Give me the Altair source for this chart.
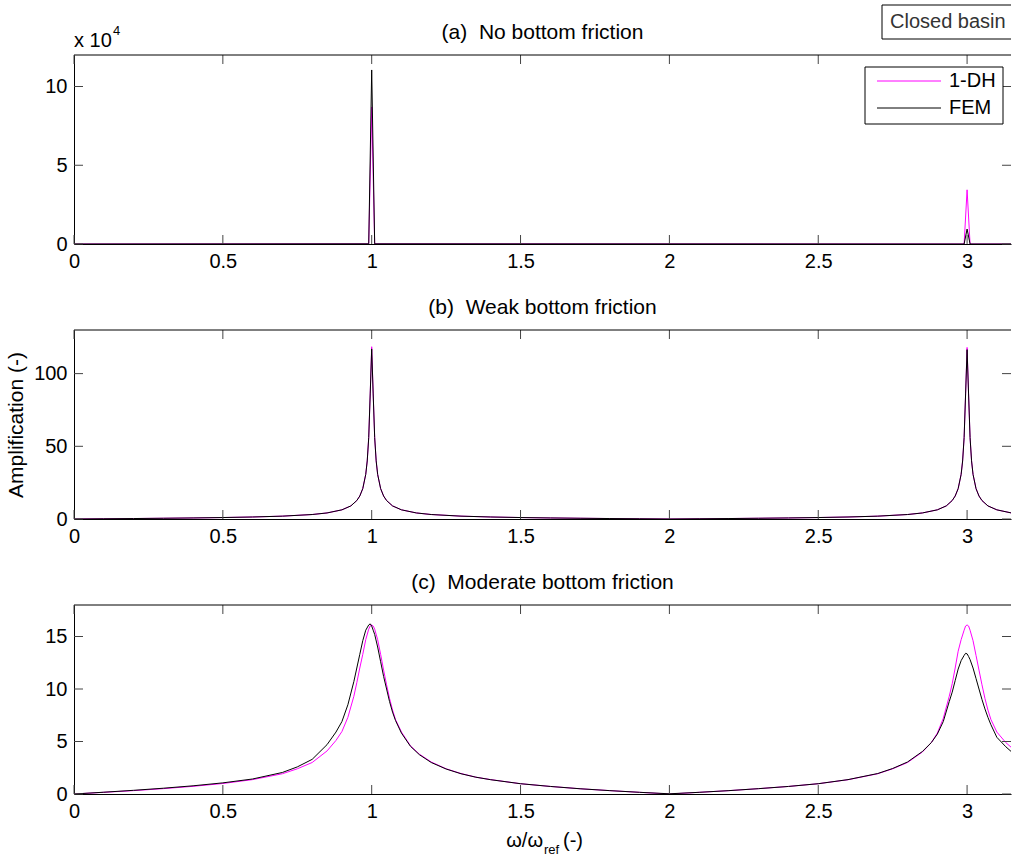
import altair as alt
import pandas as pd

W, H = 937, 189
XMAX = 3.1475
FONT = "Liberation Sans"

# tick labels
x_ticks = [0, 0.5, 1, 1.5, 2, 2.5, 3]
ya_ticks = [0, 5, 10]
yb_ticks = [0, 50, 100]
yc_ticks = [0, 5, 10, 15]

# (a) No bottom friction  (values in units of 10^4)
x_a = [0, 0.99, 1.0, 1.01, 2.99, 3.0, 3.01, 3.15]
a_dh = [0, 0.01, 8.7, 0.01, 0.0, 3.44, 0.0, 0.0]
a_fem = [0, 0.01, 11.05, 0.01, 0.0, 0.95, 0.0, 0.0]

# (b) Weak bottom friction
x_b = [0, 0.1, 0.2, 0.3, 0.4, 0.5, 0.6, 0.7, 0.8,
       0.85, 0.9, 0.93, 0.95, 0.96, 0.97, 0.98, 0.985, 0.99, 0.995,
       1.0,
       1.005, 1.01, 1.015, 1.02, 1.03, 1.04, 1.05, 1.07, 1.1, 1.15, 1.2,
       1.3, 1.4, 1.5, 1.6, 1.7, 1.8, 1.9, 2.0,
       2.1, 2.2, 2.3, 2.4, 2.5, 2.6, 2.7, 2.8,
       2.85, 2.9, 2.93, 2.95, 2.96, 2.97, 2.98, 2.985, 2.99, 2.995,
       3.0,
       3.005, 3.01, 3.015, 3.02, 3.03, 3.04, 3.05, 3.07, 3.1, 3.15]
b_dh = [0, 0.16, 0.32, 0.51, 0.73, 1.0, 1.38, 1.96, 3.08,
        4.16, 6.3, 9.0, 12.7, 15.8, 20.9, 30.7, 39.9, 56, 86,
        118.5,
        86, 56, 40, 30.7, 20.9, 15.8, 12.7, 9.0, 6.3, 4.16, 3.08,
        1.96, 1.38, 1.0, 0.73, 0.51, 0.32, 0.16, 0,
        0.16, 0.32, 0.51, 0.73, 1.0, 1.38, 1.96, 3.08,
        4.16, 6.3, 9.0, 12.7, 15.8, 20.9, 30.7, 39.9, 56, 86,
        118.0,
        86, 56, 40, 30.7, 20.9, 15.8, 12.7, 9.0, 6.3, 4.1]
b_fem = [0, 0.16, 0.32, 0.51, 0.73, 1.0, 1.38, 1.96, 3.08,
         4.16, 6.3, 9.0, 12.7, 15.8, 20.9, 30.7, 39.9, 56, 86,
         117.0,
         86, 56, 40, 30.7, 20.9, 15.8, 12.7, 9.0, 6.3, 4.16, 3.08,
         1.96, 1.38, 1.0, 0.73, 0.51, 0.32, 0.16, 0,
         0.16, 0.32, 0.51, 0.73, 1.0, 1.38, 1.96, 3.08,
         4.16, 6.3, 9.0, 12.7, 15.8, 20.9, 30.7, 39.9, 56, 86,
         116.5,
         86, 56, 40, 30.7, 20.9, 15.8, 12.7, 9.0, 6.3, 4.1]

# (c) Moderate bottom friction
x_c = [0, 0.1, 0.2, 0.3, 0.4, 0.5, 0.6, 0.7,
       0.75, 0.8, 0.85, 0.88, 0.9,
       0.92, 0.94, 0.95, 0.96, 0.97, 0.98, 0.99,
       0.995, 1.0, 1.005, 1.01,
       1.02, 1.03, 1.04, 1.05, 1.06, 1.07, 1.08,
       1.1, 1.13, 1.16, 1.2, 1.25, 1.3, 1.35, 1.4,
       1.5, 1.6, 1.7, 1.8, 1.9, 2.0,
       2.1, 2.2, 2.3, 2.4, 2.5, 2.6, 2.7,
       2.75, 2.8, 2.85, 2.88, 2.9,
       2.92, 2.94, 2.95, 2.96, 2.97, 2.98, 2.99,
       2.995, 3.0, 3.005, 3.01,
       3.02, 3.03, 3.04, 3.05, 3.06, 3.07, 3.08,
       3.1, 3.13, 3.15]
c_dh = [0, 0.16, 0.32, 0.51, 0.73, 1.0, 1.37, 1.93,
        2.4, 3.0, 4.1, 5.1, 5.95,
        7.3, 9.3, 10.6, 12.0, 13.3, 14.7, 15.7,
        16.0, 16.1, 16.0, 15.7,
        14.7, 13.3, 11.8, 10.4, 9.1, 8.0, 7.1,
        5.9, 4.6, 3.8, 3.05, 2.4, 1.95, 1.6, 1.37,
        0.98, 0.72, 0.5, 0.32, 0.16, 0,
        0.16, 0.32, 0.51, 0.72, 0.98, 1.36, 1.93,
        2.4, 3.0, 4.0, 4.9, 5.8,
        7.2, 9.3, 10.5, 12.0, 13.6, 14.7, 15.6,
        16.0, 16.1, 16.0, 15.6,
        14.6, 13.2, 11.8, 10.4, 9.1, 8.0, 7.1,
        5.9, 4.9, 4.4]
c_fem = [0, 0.17, 0.35, 0.55, 0.78, 1.06, 1.43, 2.05,
         2.58, 3.3, 4.7, 5.9, 6.9,
         8.5, 10.7, 12.0, 13.3, 14.6, 15.6, 16.1,
         16.2, 16.0, 15.6, 15.2,
         14.0, 12.6, 11.2, 10.0, 8.8, 7.8, 7.0,
         5.8, 4.55, 3.75, 3.0, 2.38, 1.93, 1.6, 1.36,
         0.98, 0.72, 0.5, 0.32, 0.16, 0.02,
         0.16, 0.32, 0.51, 0.72, 0.98, 1.37, 1.95,
         2.43, 3.05, 4.05, 4.9, 5.7,
         6.9, 8.8, 9.7, 10.8, 11.9, 12.7, 13.2,
         13.4, 13.35, 13.1, 12.8,
         12.0, 11.0, 10.0, 9.0, 8.1, 7.3, 6.6,
         5.4, 4.5, 4.0]

DH_COLOR = "#ff00ff"
FEM_COLOR = "#000000"
TICK_COLOR = "#444444"
NB = "\u00a0"


def note(text, x, y, size=20, align="left", baseline="alphabetic", color="black"):
    return alt.Chart(pd.DataFrame({"t": [text]})).mark_text(
        font=FONT, fontSize=size, align=align, baseline=baseline, color=color
    ).encode(x=alt.value(x), y=alt.value(y), text="t:N")


def seg(x1, x2, y1, y2, color="black"):
    return alt.Chart(pd.DataFrame({"t": [0]})).mark_rule(
        color=color, strokeWidth=1
    ).encode(x=alt.value(x1), x2=alt.value(x2), y=alt.value(y1), y2=alt.value(y2))


def panel(x, dh, fem, ymax, yticks, title, ytitle=None, extras=()):
    df = pd.DataFrame({"x": x, "dh": dh, "fem": fem})
    xs = alt.Scale(domain=[0, XMAX], nice=False, zero=False)
    ys = alt.Scale(domain=[0, ymax], nice=False)
    xaxis = alt.Axis(values=x_ticks, format="~r", ticks=False, labelPadding=7,
                     labelFlush=False, domainColor="black", labelFontSize=20,
                     labelFont=FONT, labelColor="black", grid=False, title=None)
    yargs = dict(values=yticks, format="~r", ticks=False, labelPadding=7,
                 domainColor="black", labelFontSize=20, labelFont=FONT,
                 labelColor="black", grid=False)
    if ytitle:
        yaxis = alt.Axis(title=ytitle, titleFont=FONT, titleFontSize=21,
                         titleFontWeight="normal", titleColor="black",
                         titlePadding=7, **yargs)
    else:
        yaxis = alt.Axis(title=None, **yargs)
    base = alt.Chart(df)
    l_dh = base.mark_line(color=DH_COLOR, strokeWidth=1, clip=True).encode(
        x=alt.X("x:Q", scale=xs, axis=xaxis), y=alt.Y("dh:Q", scale=ys, axis=yaxis))
    l_fem = base.mark_line(color=FEM_COLOR, strokeWidth=1, clip=True).encode(
        x=alt.X("x:Q", scale=xs, axis=xaxis), y=alt.Y("fem:Q", scale=ys, axis=yaxis))
    xt = alt.Chart(pd.DataFrame({"v": x_ticks}))
    yt = alt.Chart(pd.DataFrame({"v": yticks}))
    bot = xt.mark_rule(color=TICK_COLOR, strokeWidth=1).encode(
        x=alt.X("v:Q", scale=xs, axis=xaxis), y=alt.value(H), y2=alt.value(H - 9))
    top = xt.mark_rule(color=TICK_COLOR, strokeWidth=1).encode(
        x=alt.X("v:Q", scale=xs, axis=xaxis), y=alt.value(0), y2=alt.value(9))
    left = yt.mark_rule(color=TICK_COLOR, strokeWidth=1).encode(
        y=alt.Y("v:Q", scale=ys, axis=yaxis), x=alt.value(0), x2=alt.value(9))
    right = yt.mark_rule(color=TICK_COLOR, strokeWidth=1).encode(
        y=alt.Y("v:Q", scale=ys, axis=yaxis), x=alt.value(W - 9), x2=alt.value(W))
    border = seg(0, W, 0, 0)
    ttl = note(title, W / 2, -16, size=21, align="center")
    return alt.layer(l_dh, l_fem, bot, top, left, right, border, ttl, *extras).properties(
        width=W, height=H)


extras_a = [
    note("x 10", 0, -8, size=20),
    note("4", 39, -20, size=13),
    # "Closed basin" box (right side cut off)
    seg(808, W, -50, -50), seg(808, W, -16, -16), seg(808, 808, -50, -16),
    note("Closed basin", 816, -33, size=20, baseline="middle", color="#333333"),
    # legend
    alt.Chart(pd.DataFrame({"t": [0]})).mark_rect(fill="white", stroke="black", strokeWidth=1).encode(
        x=alt.value(791), x2=alt.value(929), y=alt.value(12), y2=alt.value(69)),
    seg(803, 867, 26, 26, DH_COLOR),
    seg(803, 867, 53, 53, FEM_COLOR),
    note("1-DH", 875, 26, size=20, baseline="middle"),
    note("FEM", 875, 53, size=20, baseline="middle"),
]

extras_c = [
    note("\u03c9/\u03c9", 469, H + 53, size=20, align="right"),
    note("ref", 470, H + 60, size=13),
    note("(-)", 489, H + 53, size=20),
]

pa = panel(x_a, a_dh, a_fem, 12, ya_ticks, "(a)" + NB + " No bottom friction", extras=extras_a)
pb = panel(x_b, b_dh, b_fem, 130, yb_ticks, "(b)" + NB + " Weak bottom friction", ytitle="Amplification (-)")
pc = panel(x_c, c_dh, c_fem, 18, yc_ticks, "(c)" + NB + " Moderate bottom friction", extras=extras_c)

chart = alt.vconcat(pa, pb, pc, spacing=26).properties(
    padding={"left": 5, "top": 4, "right": 0, "bottom": 0},
    background="white",
).configure_view(stroke=None)

chart.save("out.html", embed_options={"renderer": "svg", "actions": False})
